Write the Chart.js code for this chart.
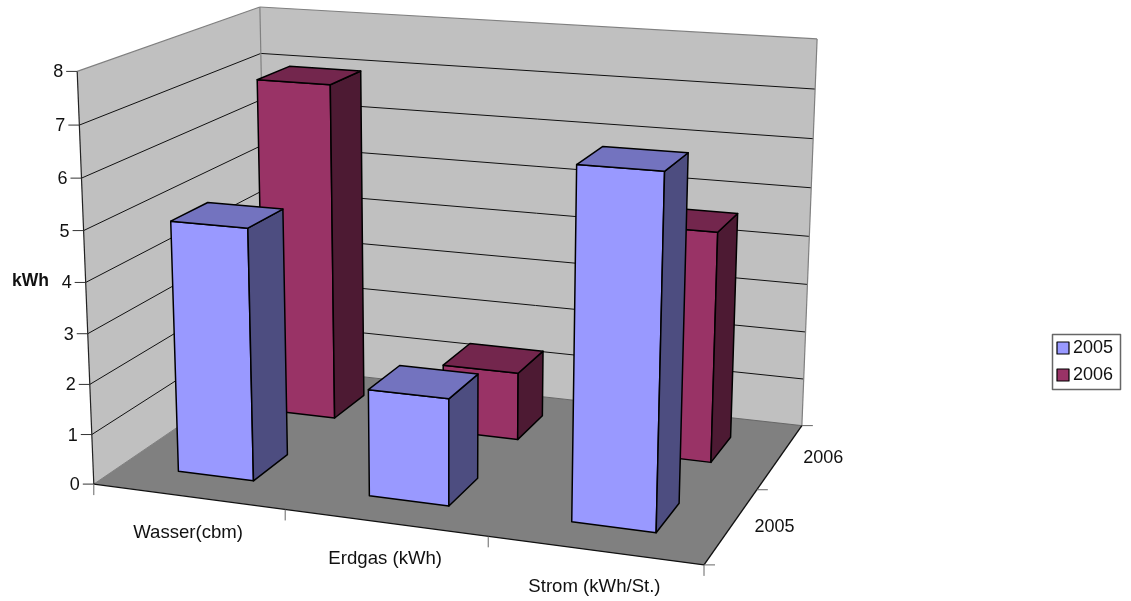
<!DOCTYPE html>
<html>
<head>
<meta charset="utf-8">
<style>
  html, body { margin: 0; padding: 0; background: #fff; }
  canvas { display: block; }
</style>
<script src="https://cdn.jsdelivr.net/npm/chart.js@4/dist/chart.umd.min.js"></script>
</head>
<body>
<canvas id="chart" width="1131" height="601"></canvas>
<script>
const categories = ["Wasser(cbm)", "Erdgas (kWh)", "Strom (kWh/St.)"];
const values2005 = [5, 2.1, 6.7];
const values2006 = [7, 1.4, 4.65];
const seriesNames = ["2005", "2006"];

// where the box corners and ticks of the 3d frame sit in the picture: [u, w, v, px, py]
// u = category axis, w = depth axis, v = value axis
const framePoints = [
  [0, 0, 0, 94, 483.5], [3, 0, 0, 704, 564.5], [3, 2, 0, 802, 426], [0, 2, 0, 267, 366],
  [0, 0, 8, 77, 71], [0, 2, 8, 260, 7], [3, 2, 8, 817, 39],
  [0, 0, 4, 86, 283], [1, 0, 0, 285, 510], [2, 0, 0, 488, 537], [3, 1, 0, 757, 489]
];

const FONT = '"Liberation Sans", Arial, sans-serif';
const TEXT = "#111";

// front, side and top colour for each series
const faces = [
  { front: "#9999FF", side: "#4D4D80", top: "#7373BF" },
  { front: "#993366", side: "#4D1A33", top: "#73264D" }
];

// least squares fit of the camera matrix from framePoints
function fitCamera(points) {
  const n = 11, A = [], b = new Array(n).fill(0);
  for (let i = 0; i < n; i++) A.push(new Array(n).fill(0));
  const add = (row, val) => {
    for (let i = 0; i < n; i++) {
      b[i] += row[i] * val;
      for (let j = 0; j < n; j++) A[i][j] += row[i] * row[j];
    }
  };
  points.forEach(([u, w, v, x, y]) => {
    add([u, w, v, 1, 0, 0, 0, 0, -x * u, -x * w, -x * v], x);
    add([0, 0, 0, 0, u, w, v, 1, -y * u, -y * w, -y * v], y);
  });
  for (let c = 0; c < n; c++) {
    let p = c;
    for (let r = c + 1; r < n; r++) if (Math.abs(A[r][c]) > Math.abs(A[p][c])) p = r;
    [A[c], A[p]] = [A[p], A[c]];
    [b[c], b[p]] = [b[p], b[c]];
    for (let r = 0; r < n; r++) {
      if (r === c) continue;
      const f = A[r][c] / A[c][c];
      for (let k = c; k < n; k++) A[r][k] -= f * A[c][k];
      b[r] -= f * b[c];
    }
  }
  return b.map((val, i) => val / A[i][i]);
}

const cam = fitCamera(framePoints);
function project(u, w, v) {
  const d = cam[8] * u + cam[9] * w + cam[10] * v + 1;
  return [
    (cam[0] * u + cam[1] * w + cam[2] * v + cam[3]) / d,
    (cam[4] * u + cam[5] * w + cam[6] * v + cam[7]) / d
  ];
}

function poly(ctx, pts, fill, stroke, lw) {
  ctx.beginPath();
  pts.forEach((p, i) => (i ? ctx.lineTo(p[0], p[1]) : ctx.moveTo(p[0], p[1])));
  ctx.closePath();
  if (fill) { ctx.fillStyle = fill; ctx.fill(); }
  if (stroke) { ctx.strokeStyle = stroke; ctx.lineWidth = lw; ctx.lineJoin = "round"; ctx.stroke(); }
}

function line(ctx, a, b, color, lw) {
  ctx.beginPath();
  ctx.moveTo(a[0], a[1]);
  ctx.lineTo(b[0], b[1]);
  ctx.strokeStyle = color;
  ctx.lineWidth = lw;
  ctx.stroke();
}

function label(ctx, text, x, y, align, font) {
  ctx.font = font || "18px " + FONT;
  ctx.fillStyle = TEXT;
  ctx.textAlign = align;
  ctx.textBaseline = "middle";
  ctx.fillText(text, x, y);
}

function drawFrame(chart, ctx) {
  const yScale = chart.scales.y;
  const U = categories.length, W = seriesNames.length, V = yScale.max;
  const A = project(0, 0, 0), B = project(U, 0, 0), C = project(U, W, 0), D = project(0, W, 0);
  const E = project(0, 0, V), F = project(0, W, V), G = project(U, W, V);

  poly(ctx, [A, D, F, E], "#C0C0C0");
  poly(ctx, [D, C, G, F], "#C0C0C0");
  poly(ctx, [A, B, C, D], "#808080");

  yScale.ticks.forEach(t => {
    if (t.value === 0 || t.value === V) return;
    const p = project(0, 0, t.value), q = project(0, W, t.value), r = project(U, W, t.value);
    line(ctx, p, q, "#111", 1);
    line(ctx, q, r, "#111", 1);
  });

  line(ctx, E, F, "#808080", 1.2);
  line(ctx, F, G, "#808080", 1.2);
  line(ctx, G, C, "#808080", 1.2);
  line(ctx, F, D, "#808080", 1.2);
  line(ctx, D, C, "#666", 1);
  line(ctx, A, D, "#808080", 1);
  line(ctx, E, A, "#222", 1.2);
  line(ctx, A, B, "#111", 1.4);
  line(ctx, B, C, "#111", 1.4);

  // value axis ticks and labels
  yScale.ticks.forEach(t => {
    const p = project(0, 0, t.value);
    line(ctx, p, [p[0] - 11, p[1]], "#333", 1);
    label(ctx, t.label, p[0] - 14, p[1] + 1, "right");
  });

  // category axis
  for (let i = 0; i <= U; i++) {
    const p = project(i, 0, 0);
    line(ctx, p, [p[0], p[1] + 11], "#666", 1);
  }
  categories.forEach((c, i) => {
    const p = project(i + 0.5, 0, 0);
    label(ctx, c, p[0], p[1] + 36, "center", "18.6px " + FONT);
  });

  // depth axis
  for (let i = 0; i <= W; i++) {
    const p = project(U, i, 0);
    line(ctx, p, [p[0] + 11, p[1]], "#666", 1);
  }
  seriesNames.forEach((s, i) => {
    const p = project(U, i + 0.5, 0);
    label(ctx, s, p[0] + 23, p[1] + 1.5, "left");
  });

  label(ctx, yScale.options.title.text, 12, 281, "left", "bold 17.5px " + FONT);
}

function drawBars(chart, ctx) {
  const xScale = chart.scales.x, yScale = chart.scales.y;
  const U = categories.length;
  // back series first so the front one covers it
  for (let s = chart.data.datasets.length - 1; s >= 0; s--) {
    const meta = chart.getDatasetMeta(s);
    meta.data.forEach(bar => {
      const u0 = xScale.getDecimalForPixel(bar.x - bar.width / 2) * U;
      const u1 = xScale.getDecimalForPixel(bar.x + bar.width / 2) * U;
      const w0 = s + 0.5 - (u1 - u0) / 2, w1 = s + 0.5 + (u1 - u0) / 2;
      const v0 = yScale.getValueForPixel(bar.base), v1 = yScale.getValueForPixel(bar.y);
      const f = faces[s];
      poly(ctx, [project(u0, w0, v0), project(u1, w0, v0), project(u1, w0, v1), project(u0, w0, v1)], f.front, "#000", 1.5);
      poly(ctx, [project(u1, w0, v0), project(u1, w1, v0), project(u1, w1, v1), project(u1, w0, v1)], f.side, "#000", 1.5);
      poly(ctx, [project(u0, w0, v1), project(u1, w0, v1), project(u1, w1, v1), project(u0, w1, v1)], f.top, "#000", 1.5);
    });
  }
}

function drawLegend(chart, ctx) {
  ctx.strokeStyle = "#666";
  ctx.lineWidth = 1.5;
  ctx.strokeRect(1052.5, 334.5, 68, 55);
  chart.data.datasets.forEach((ds, i) => {
    const y = 342 + i * 27;
    ctx.fillStyle = ds.backgroundColor;
    ctx.fillRect(1057, y, 12, 12);
    ctx.strokeStyle = "#000";
    ctx.lineWidth = 1.2;
    ctx.strokeRect(1057, y, 12, 12);
    label(ctx, ds.label, 1073, y + 6.5, "left");
  });
}

const box3d = {
  id: "box3d",
  beforeDatasetsDraw(chart) {
    const ctx = chart.ctx;
    ctx.save();
    drawFrame(chart, ctx);
    drawBars(chart, ctx);
    drawLegend(chart, ctx);
    ctx.restore();
    return false;
  }
};

new Chart(document.getElementById("chart"), {
  type: "bar",
  data: {
    labels: categories,
    datasets: [
      { label: seriesNames[0], data: values2005, backgroundColor: faces[0].front },
      { label: seriesNames[1], data: values2006, backgroundColor: faces[1].front }
    ]
  },
  options: {
    responsive: false,
    animation: false,
    devicePixelRatio: 1,
    grouped: false,
    categoryPercentage: 0.4,
    barPercentage: 1,
    plugins: { legend: { display: false }, tooltip: { enabled: false } },
    scales: {
      x: { display: false },
      y: { display: false, min: 0, max: 8, ticks: { stepSize: 1 }, title: { text: "kWh" } }
    }
  },
  plugins: [box3d]
});
</script>
</body>
</html>
